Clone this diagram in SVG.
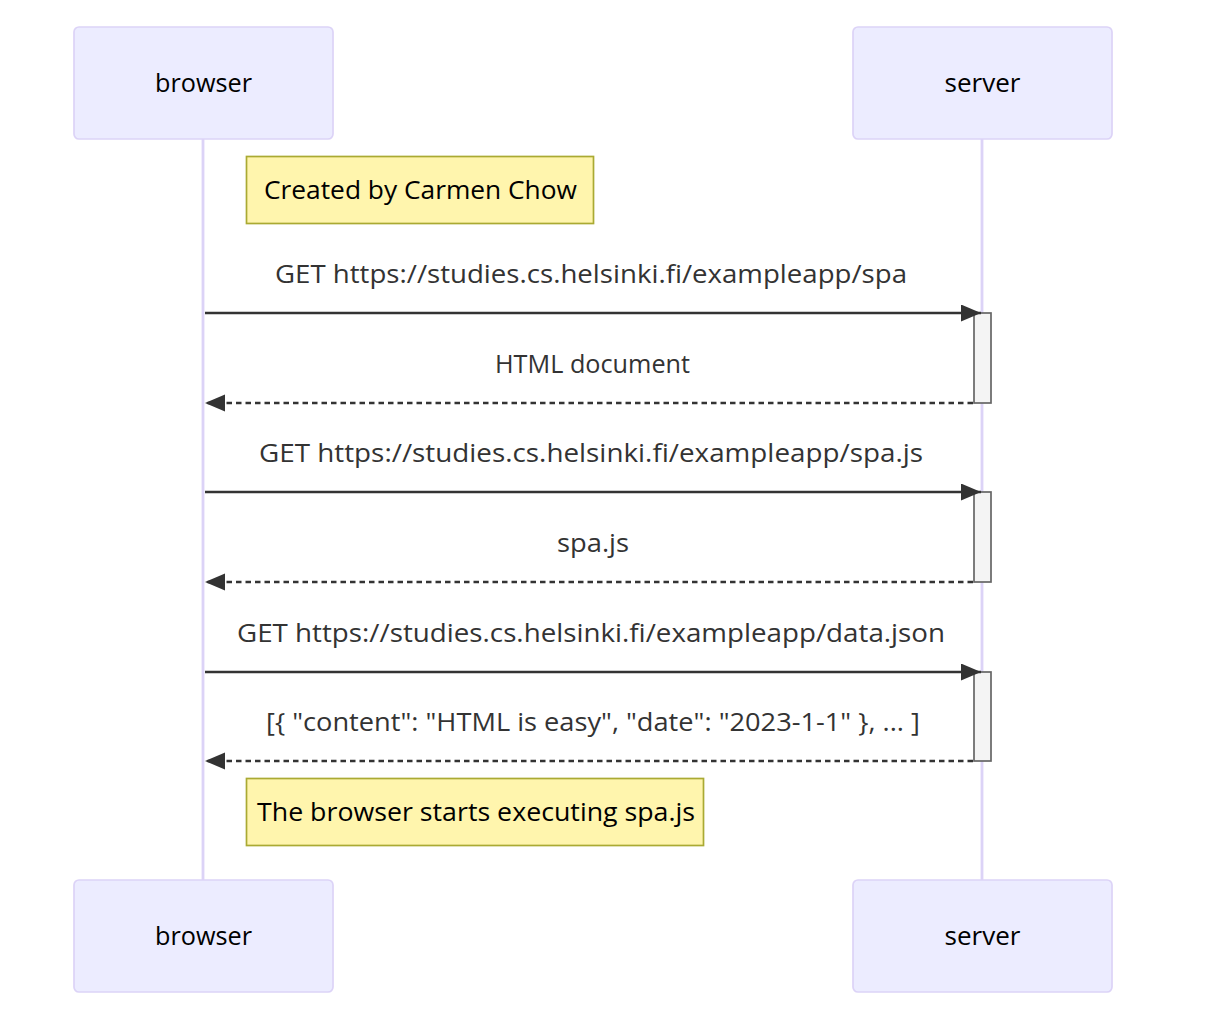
<svg xmlns="http://www.w3.org/2000/svg" width="1221" height="1018" viewBox="0 0 1221 1018">
<defs>
<marker id="arrow" markerUnits="userSpaceOnUse" markerWidth="22" markerHeight="18" refX="20" refY="8.5" orient="auto">
<path d="M0,0 L20,8.5 L0,17 z" fill="#333333"/>
</marker>
<style>
.actor{fill:#ECECFF;stroke:#DCD3F7;stroke-width:1.7}
.actortext{font-family:"Open Sans","Noto Sans",sans-serif;font-size:26px;fill:#000;text-anchor:middle}
.life{stroke:#DCD3F7;stroke-width:2.8}
.note{fill:#FFF5AD;stroke:#AAAA33;stroke-width:1.7}
.notetext{font-family:"Open Sans","Noto Sans",sans-serif;font-size:26px;fill:#000;text-anchor:middle}
.msg{stroke:#333333;stroke-width:2.6;fill:none}
.dash{stroke-dasharray:5.5,4}
.msgtext{font-family:"Open Sans","Noto Sans",sans-serif;font-size:26px;fill:#333333;text-anchor:middle}
.act{fill:#F4F4F4;stroke:#666666;stroke-width:1.7}
</style>
</defs>
<rect width="1221" height="1018" fill="#ffffff"/>
<g id="lifelines">
<line class="life" x1="203" y1="139" x2="203" y2="880"/>
<line class="life" x1="982" y1="139" x2="982" y2="880"/>
</g>
<g id="actor-browser-top">
<rect class="actor" x="74" y="27" width="259" height="112" rx="5"/>
<text class="actortext" x="203.5" y="92" textLength="97" lengthAdjust="spacingAndGlyphs">browser</text>
</g>
<g id="actor-server-top">
<rect class="actor" x="853" y="27" width="259" height="112" rx="5"/>
<text class="actortext" x="982.5" y="92" textLength="76" lengthAdjust="spacingAndGlyphs">server</text>
</g>
<g id="actor-browser-bottom">
<rect class="actor" x="74" y="880" width="259" height="112" rx="5"/>
<text class="actortext" x="203.5" y="945" textLength="97" lengthAdjust="spacingAndGlyphs">browser</text>
</g>
<g id="actor-server-bottom">
<rect class="actor" x="853" y="880" width="259" height="112" rx="5"/>
<text class="actortext" x="982.5" y="945" textLength="76" lengthAdjust="spacingAndGlyphs">server</text>
</g>
<g id="activations">
<rect class="act" x="974" y="313" width="17" height="90"/>
<rect class="act" x="974" y="492" width="17" height="90"/>
<rect class="act" x="974" y="672" width="17" height="89"/>
</g>
<g id="note-created">
<rect class="note" x="246.5" y="156.5" width="347" height="67"/>
<text class="notetext" x="420.5" y="199" textLength="313" lengthAdjust="spacingAndGlyphs">Created by Carmen Chow</text>
</g>
<g id="note-executing">
<rect class="note" x="246.5" y="778.5" width="457" height="67"/>
<text class="notetext" x="476" y="821" textLength="438" lengthAdjust="spacingAndGlyphs">The browser starts executing spa.js</text>
</g>
<g id="connectors">
<line class="msg" x1="205" y1="313" x2="981" y2="313" marker-end="url(#arrow)"/>
<line class="msg dash" x1="973" y1="403" x2="205" y2="403" marker-end="url(#arrow)"/>
<line class="msg" x1="205" y1="492" x2="981" y2="492" marker-end="url(#arrow)"/>
<line class="msg dash" x1="973" y1="582" x2="205" y2="582" marker-end="url(#arrow)"/>
<line class="msg" x1="205" y1="672" x2="981" y2="672" marker-end="url(#arrow)"/>
<line class="msg dash" x1="973" y1="761" x2="205" y2="761" marker-end="url(#arrow)"/>
</g>
<g id="message-labels">
<text class="msgtext" x="591" y="283" textLength="632" lengthAdjust="spacingAndGlyphs">GET https://studies.cs.helsinki.fi/exampleapp/spa</text>
<text class="msgtext" x="592.5" y="373" textLength="195" lengthAdjust="spacingAndGlyphs">HTML document</text>
<text class="msgtext" x="591" y="462" textLength="664" lengthAdjust="spacingAndGlyphs">GET https://studies.cs.helsinki.fi/exampleapp/spa.js</text>
<text class="msgtext" x="593" y="552" textLength="72" lengthAdjust="spacingAndGlyphs">spa.js</text>
<text class="msgtext" x="591" y="642" textLength="708" lengthAdjust="spacingAndGlyphs">GET https://studies.cs.helsinki.fi/exampleapp/data.json</text>
<text class="msgtext" x="593" y="731" textLength="654" lengthAdjust="spacingAndGlyphs">[{ "content": "HTML is easy", "date": "2023-1-1" }, ... ]</text>
</g>
</svg>
